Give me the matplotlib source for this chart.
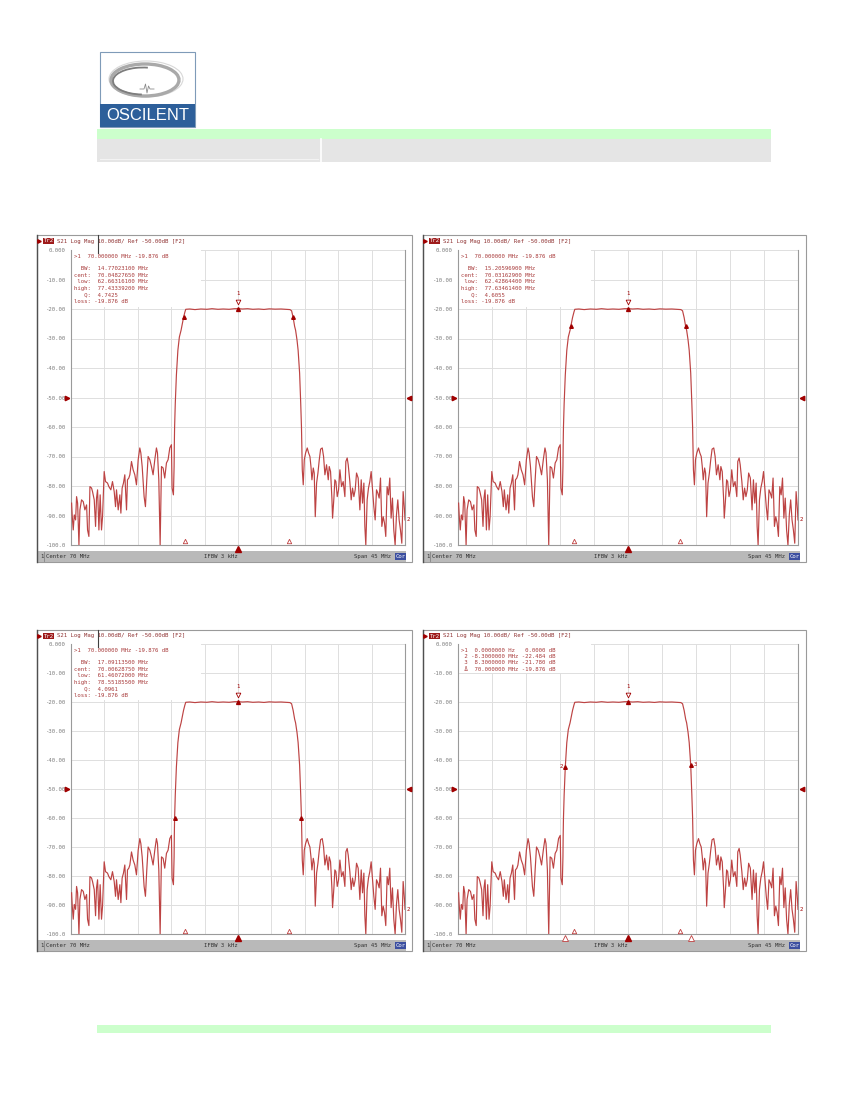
import numpy as np
import matplotlib.pyplot as plt
from matplotlib.patches import Rectangle, Arc
from matplotlib.transforms import blended_transform_factory

MONO = 'DejaVu Sans Mono'
TXT_RED = '#a83a3a'
MK_RED = '#a00000'
TRACE = '#bd4343'

# S21 трасса фильтра (одинаковая на всех 4 экранах), MHz / dB
f_low_stop = [47.58, 47.67, 47.80, 47.94, 48.12, 48.25, 48.39, 48.57, 48.70, 48.92,
              49.15, 49.37, 49.60, 49.73, 49.91, 50.05, 50.27, 50.40, 50.63, 50.81,
              50.94, 51.08, 51.26, 51.43, 51.61, 51.75, 51.97, 52.15, 52.42, 52.60,
              52.87, 53.09, 53.32, 53.50, 53.63, 53.86, 54.08, 54.22, 54.39, 54.57,
              54.75, 54.98, 55.11, 55.29, 55.43, 55.65, 55.87, 56.10, 56.32, 56.55,
              56.77, 56.91, 57.09, 57.35, 57.53, 57.71, 57.89, 58.12, 58.34, 58.56,
              58.79, 59.01, 59.15, 59.33, 59.51, 59.69, 59.91, 60.13, 60.36, 60.58,
              60.81, 61.03, 61.12, 61.30, 61.39]
db_low_stop = [-85.8, -90.4, -94.9, -89.8, -91.5, -83.6, -85.8, -100.0, -88.1, -84.7,
               -85.3, -88.1, -86.4, -94.9, -97.1, -80.2, -80.7, -81.9, -84.7, -93.7,
               -84.1, -81.3, -94.9, -83.0, -94.9, -90.4, -75.1, -78.5, -79.0, -80.2,
               -81.3, -78.5, -81.9, -87.0, -81.3, -88.1, -83.0, -89.2, -80.7, -79.0,
               -76.2, -88.1, -77.9, -77.3, -76.2, -71.7, -74.5, -76.2, -79.6, -71.1,
               -67.1, -68.8, -73.4, -83.6, -87.0, -77.9, -70.0, -71.1, -73.4, -76.2,
               -71.1, -67.1, -68.8, -77.9, -100.0, -73.4, -73.9, -77.3, -72.2, -71.1,
               -67.1, -66.0, -80.7, -83.0, -73.4]
f_skirt_lo = [61.42, 61.46, 61.55, 61.70, 61.90, 62.10, 62.33, 62.43, 62.66, 62.85, 62.96]
db_skirt_lo = [-66.0, -59.9, -52.0, -42.4, -34.0, -29.5, -27.2, -25.9, -22.9, -21.0, -20.1]
f_pass = [63.5, 64.2, 65.0, 65.8, 66.5, 67.3, 68.0, 68.8, 69.5, 70.0,
          70.6, 71.3, 72.0, 72.8, 73.5, 74.2, 75.0, 75.8, 76.5, 77.0]
db_pass = [-20.0, -20.2, -20.0, -20.1, -19.9, -20.1, -20.0, -20.1, -19.9, -19.876,
           -20.0, -19.9, -20.1, -20.0, -20.15, -19.95, -20.05, -20.0, -20.1, -20.2]
f_skirt_hi = [77.22, 77.43, 77.63, 77.76, 77.95, 78.10, 78.30, 78.45, 78.55, 78.60]
db_skirt_hi = [-20.6, -22.9, -25.9, -27.2, -30.5, -34.0, -41.7, -52.0, -59.9, -66.0]
f_high_stop = [78.66, 78.79, 78.93, 79.11, 79.33, 79.51, 79.69, 79.83, 79.96, 80.14,
               80.27, 80.41, 80.59, 80.77, 80.95, 81.13, 81.35, 81.53, 81.71, 81.93,
               82.16, 82.29, 82.47, 82.65, 82.74, 82.92, 83.05, 83.19, 83.37, 83.55,
               83.73, 83.95, 84.17, 84.40, 84.53, 84.71, 84.85, 85.07, 85.25, 85.43,
               85.61, 85.79, 85.97, 86.19, 86.42, 86.60, 86.78, 86.96, 87.09, 87.22,
               87.40, 87.58, 87.76, 87.94, 88.12, 88.30, 88.48, 88.66, 88.84, 89.02,
               89.20, 89.38, 89.56, 89.74, 89.91, 90.09, 90.27, 90.45, 90.63, 90.81,
               90.99, 91.17, 91.35, 91.53, 91.71, 91.89, 92.07, 92.25, 92.43, 92.50]
db_high_stop = [-74.5, -79.6, -71.1, -68.8, -67.1, -68.8, -70.0, -73.4, -77.9, -73.9,
                -75.6, -90.4, -79.0, -75.6, -71.1, -67.5, -67.1, -70.0, -76.2, -72.8,
                -77.9, -73.4, -75.1, -84.1, -90.9, -84.1, -77.9, -78.5, -83.6, -81.3,
                -74.5, -80.2, -78.5, -83.6, -71.7, -70.5, -72.8, -78.5, -84.7, -80.7,
                -83.6, -81.3, -75.6, -77.3, -88.1, -77.9, -85.8, -79.0, -93.7, -100.0,
                -84.7, -80.7, -78.5, -75.1, -81.3, -87.0, -91.5, -81.3, -82.4, -84.1,
                -77.3, -93.7, -90.4, -92.6, -97.1, -80.2, -83.0, -77.3, -90.9, -84.1,
                -94.9, -100.0, -89.8, -84.7, -91.5, -94.9, -99.4, -81.9, -88.1, -91.5]

db_ticks = [0, -10, -20, -30, -40, -50, -60, -70, -80, -90, -100]
db_labels = ['0.000', '-10.00', '-20.00', '-30.00', '-40.00', '-50.00',
             '-60.00', '-70.00', '-80.00', '-90.00', '-100.0']

header = 'S21 Log Mag 10.00dB/ Ref -50.00dB [F2]'

readout_1 = ['>1  70.000000 MHz -19.876 dB', '',
             '  BW:  14.77023100 MHz', 'cent:  70.04827650 MHz',
             ' low:  62.66316100 MHz', 'high:  77.43339200 MHz',
             '   Q:  4.7425', 'loss: -19.876 dB']
readout_2 = ['>1  70.000000 MHz -19.876 dB', '',
             '  BW:  15.20596900 MHz', 'cent:  70.03162900 MHz',
             ' low:  62.42864400 MHz', 'high:  77.63461400 MHz',
             '   Q:  4.6055', 'loss: -19.876 dB']
readout_3 = ['>1  70.000000 MHz -19.876 dB', '',
             '  BW:  17.09113500 MHz', 'cent:  70.00628750 MHz',
             ' low:  61.46072000 MHz', 'high:  78.55185500 MHz',
             '   Q:  4.0961', 'loss: -19.876 dB']
readout_4 = ['>1  0.0000000 Hz   0.0000 dB',
             ' 2 -8.3000000 MHz -22.484 dB',
             ' 3  8.3000000 MHz -21.780 dB',
             ' Δ  70.000000 MHz -19.876 dB']
readouts = [readout_1, readout_2, readout_3, readout_4]

# маркеры: центр, точки полосы и отметки внизу
mk1_f, mk1_db = 70.0, -19.876
bw_freqs = [[62.66316, 77.43339], [62.42864, 77.63461], [61.46072, 78.55186], [61.7, 78.3]]
bw_levels = [[-22.876, -22.876], [-25.876, -25.876], [-59.876, -59.876], [-42.36, -41.656]]
bottom_open = [62.9, 76.9]
delta_marks = [61.7, 78.3]
ref_level = -50
span = (47.5, 92.5)

# раскладка страницы в пикселях
frames = [(37, 235, 412, 562), (423, 235, 806, 562), (37, 630, 412, 951), (423, 630, 806, 951)]
plots = [(71, 250, 405, 545), (458, 250, 798, 545), (71, 644, 405, 934), (458, 644, 798, 934)]
ro_box = [(200, 307), (590, 307), (200, 700), (590, 673)]

f_all = f_low_stop + f_skirt_lo + f_pass + f_skirt_hi + f_high_stop
db_all = db_low_stop + db_skirt_lo + db_pass + db_skirt_hi + db_high_stop

fig = plt.figure(figsize=(8.5, 11), dpi=100)


def pixel_axes(z):
    a = fig.add_axes([0, 0, 1, 1], zorder=z)
    a.set_xlim(0, 850)
    a.set_ylim(1100, 0)
    a.axis('off')
    return a


page = pixel_axes(0)
overlay = pixel_axes(5)  # текст маркеров поверх графиков

# логотип
page.add_patch(Rectangle((100, 52), 95, 75, fc='white', ec='#7f9bb8', lw=0.8))
page.add_patch(Rectangle((100, 103.5), 95, 23.5, fc='#2d5f9a', ec='none'))
page.text(147.5, 116, 'OSCILENT', color='white', fontsize=12, family='Liberation Sans',
          ha='center', va='center')
page.add_patch(Arc((146, 79), 74, 36, lw=0.8, color='#d8d8d8'))
page.add_patch(Arc((145, 80), 68, 32, lw=2.4, color='#a9a9a9'))
page.add_patch(Arc((143, 81), 60, 27, theta1=95, theta2=290, lw=1.3, color='#7d7d7d'))
page.plot([140, 144, 145.5, 147, 148.5, 150, 154], [89, 89, 84, 93, 86, 89, 89],
          color='#8c8c8c', lw=0.6)

# полосы шапки и низа
page.add_patch(Rectangle((97, 129), 674, 10, fc='#ccffcc', ec='none'))
page.add_patch(Rectangle((97, 139), 674, 22.5, fc='#e5e5e5', ec='none'))
page.plot([321, 321], [139, 161.5], color='white', lw=1.2)
page.plot([100, 318], [158.5, 158.5], color='#f3f3f3', lw=0.8)
page.add_patch(Rectangle((97, 1025), 674, 8, fc='#ccffcc', ec='none'))

small = dict(family=MONO, fontsize=4.1)

for k in range(4):
    fx0, fy0, fx1, fy1 = frames[k]
    x0, y0, x1, y1 = plots[k]

    page.add_patch(Rectangle((fx0, fy0), fx1 - fx0, fy1 - fy0, fc='white', ec='#9a9a9a', lw=0.8))
    page.plot([fx0, fx0], [fy0, fy1], color='#505050', lw=1.0)

    # заголовок трассы
    page.plot(fx0 + 2.5, fy0 + 6, marker='>', color=MK_RED, ms=2.5)
    page.text(fx0 + 6.5, fy0 + 6, 'Tr2', color='white', va='center',
              bbox=dict(fc='#9e1b1b', ec='none', pad=0.4), **small)
    page.text(fx0 + 20.5, fy0 + 6, header, color='#8e3030', va='center', **small)
    if k in (0, 2):
        overlay.plot([98.3, 98.3], [fy0, y0 + 3], color='#404040', lw=0.8)

    # нижняя строка состояния
    by0 = y1 + 6
    page.add_patch(Rectangle((fx0 + 1, by0), fx1 - fx0 - 7, fy1 - by0 - 0.5, fc='#b9b9b9', ec='none'))
    ty = (by0 + fy1) / 2
    page.text(fx0 + 3, ty, '1', color='#303030', va='center', **small)
    page.plot([fx0 + 7, fx0 + 7], [by0 + 1, fy1 - 1.5], color='#858585', lw=0.6)
    page.text(fx0 + 9.5, ty, 'Center 70 MHz', color='#303030', va='center', **small)
    page.text((x0 + x1) / 2 - 17, ty, 'IFBW 3 kHz', color='#303030', va='center', ha='center', **small)
    page.text(fx1 - 21, ty, 'Span 45 MHz', color='#303030', va='center', ha='right', **small)
    page.text(fx1 - 11.5, ty, 'Cor', color='white', va='center', ha='center',
              bbox=dict(fc='#3c4fa0', ec='none', pad=0.5), **small)

    # область графика
    ax = fig.add_axes([x0 / 850, 1 - y1 / 1100, (x1 - x0) / 850, (y1 - y0) / 1100], zorder=2)
    ax.set_xlim(*span)
    ax.set_ylim(-100, 0)
    ax.set_xticks(np.linspace(span[0], span[1], 11))
    ax.set_xticklabels([])
    ax.set_yticks(db_ticks)
    ax.set_yticklabels(db_labels, color='#7d7d7d', **small)
    ax.tick_params(length=0, pad=3.8)
    ax.set_axisbelow(True)
    ax.grid(color='#dedede', lw=0.7)
    for s in ['left', 'right', 'bottom']:
        ax.spines[s].set_color('#9a9a9a')
        ax.spines[s].set_linewidth(0.8)
    ax.spines['top'].set_visible(False)

    rx1, ry1 = ro_box[k]
    ax.add_patch(Rectangle((0.003, 1 - (ry1 - y0) / (y1 - y0)), (rx1 - x0) / (x1 - x0),
                           (ry1 - y0) / (y1 - y0), transform=ax.transAxes,
                           fc='white', ec='none', zorder=1.5))

    ax.plot(f_all, db_all, color=TRACE, lw=0.85, zorder=3)

    # маркер 1
    ax.plot(mk1_f, mk1_db, marker='^', color=MK_RED, ms=2.8, zorder=4)
    ax.plot(mk1_f, mk1_db + 2.2, marker='v', mfc='white', mec=MK_RED, ms=3.4, mew=0.6, zorder=4)
    ax.text(mk1_f, mk1_db + 4.2, '1', color=MK_RED, ha='center', va='bottom', zorder=4, **small)

    ax.plot(bw_freqs[k], bw_levels[k], ls='none', marker='^', color=MK_RED, ms=2.6, zorder=4)
    if k == 3:
        ax.text(bw_freqs[k][0] - 0.35, bw_levels[k][0], '2', color=MK_RED, ha='right',
                va='center', zorder=4, **small)
        ax.text(bw_freqs[k][1] + 0.35, bw_levels[k][1], '3', color=MK_RED, ha='left',
                va='center', zorder=4, **small)

    # отметки на нижней линии
    tb = blended_transform_factory(ax.transData, ax.transAxes)
    ax.plot(bottom_open, [0.012, 0.012], ls='none', marker='^', mfc='white', mec='#c04040',
            ms=3.2, mew=0.6, transform=tb, clip_on=False, zorder=5)
    ax.plot(mk1_f, -0.013, marker='^', color=MK_RED, ms=5, transform=tb, clip_on=False, zorder=5)
    if k == 3:
        ax.plot(delta_marks, [-0.013, -0.013], ls='none', marker='^', mfc='white', mec='#c04040',
                ms=5, mew=0.6, transform=tb, clip_on=False, zorder=5)

    # уровень опоры и номер трассы
    ts = blended_transform_factory(ax.transAxes, ax.transData)
    ax.plot(-0.012, ref_level, marker='>', color=MK_RED, ms=3.2, transform=ts, clip_on=False)
    ax.plot(1.012, ref_level, marker='<', color=MK_RED, ms=3.2, transform=ts, clip_on=False)
    ax.text(1.006, db_high_stop[-1], '2', color=MK_RED, va='center', ha='left',
            transform=ts, **small)

    # текст маркеров
    for i, line in enumerate(readouts[k]):
        overlay.text(x0 + 3.3, y0 + 6 + i * 6.45, line, color=TXT_RED, va='center', **small)

fig.savefig('out.png', dpi=100)
